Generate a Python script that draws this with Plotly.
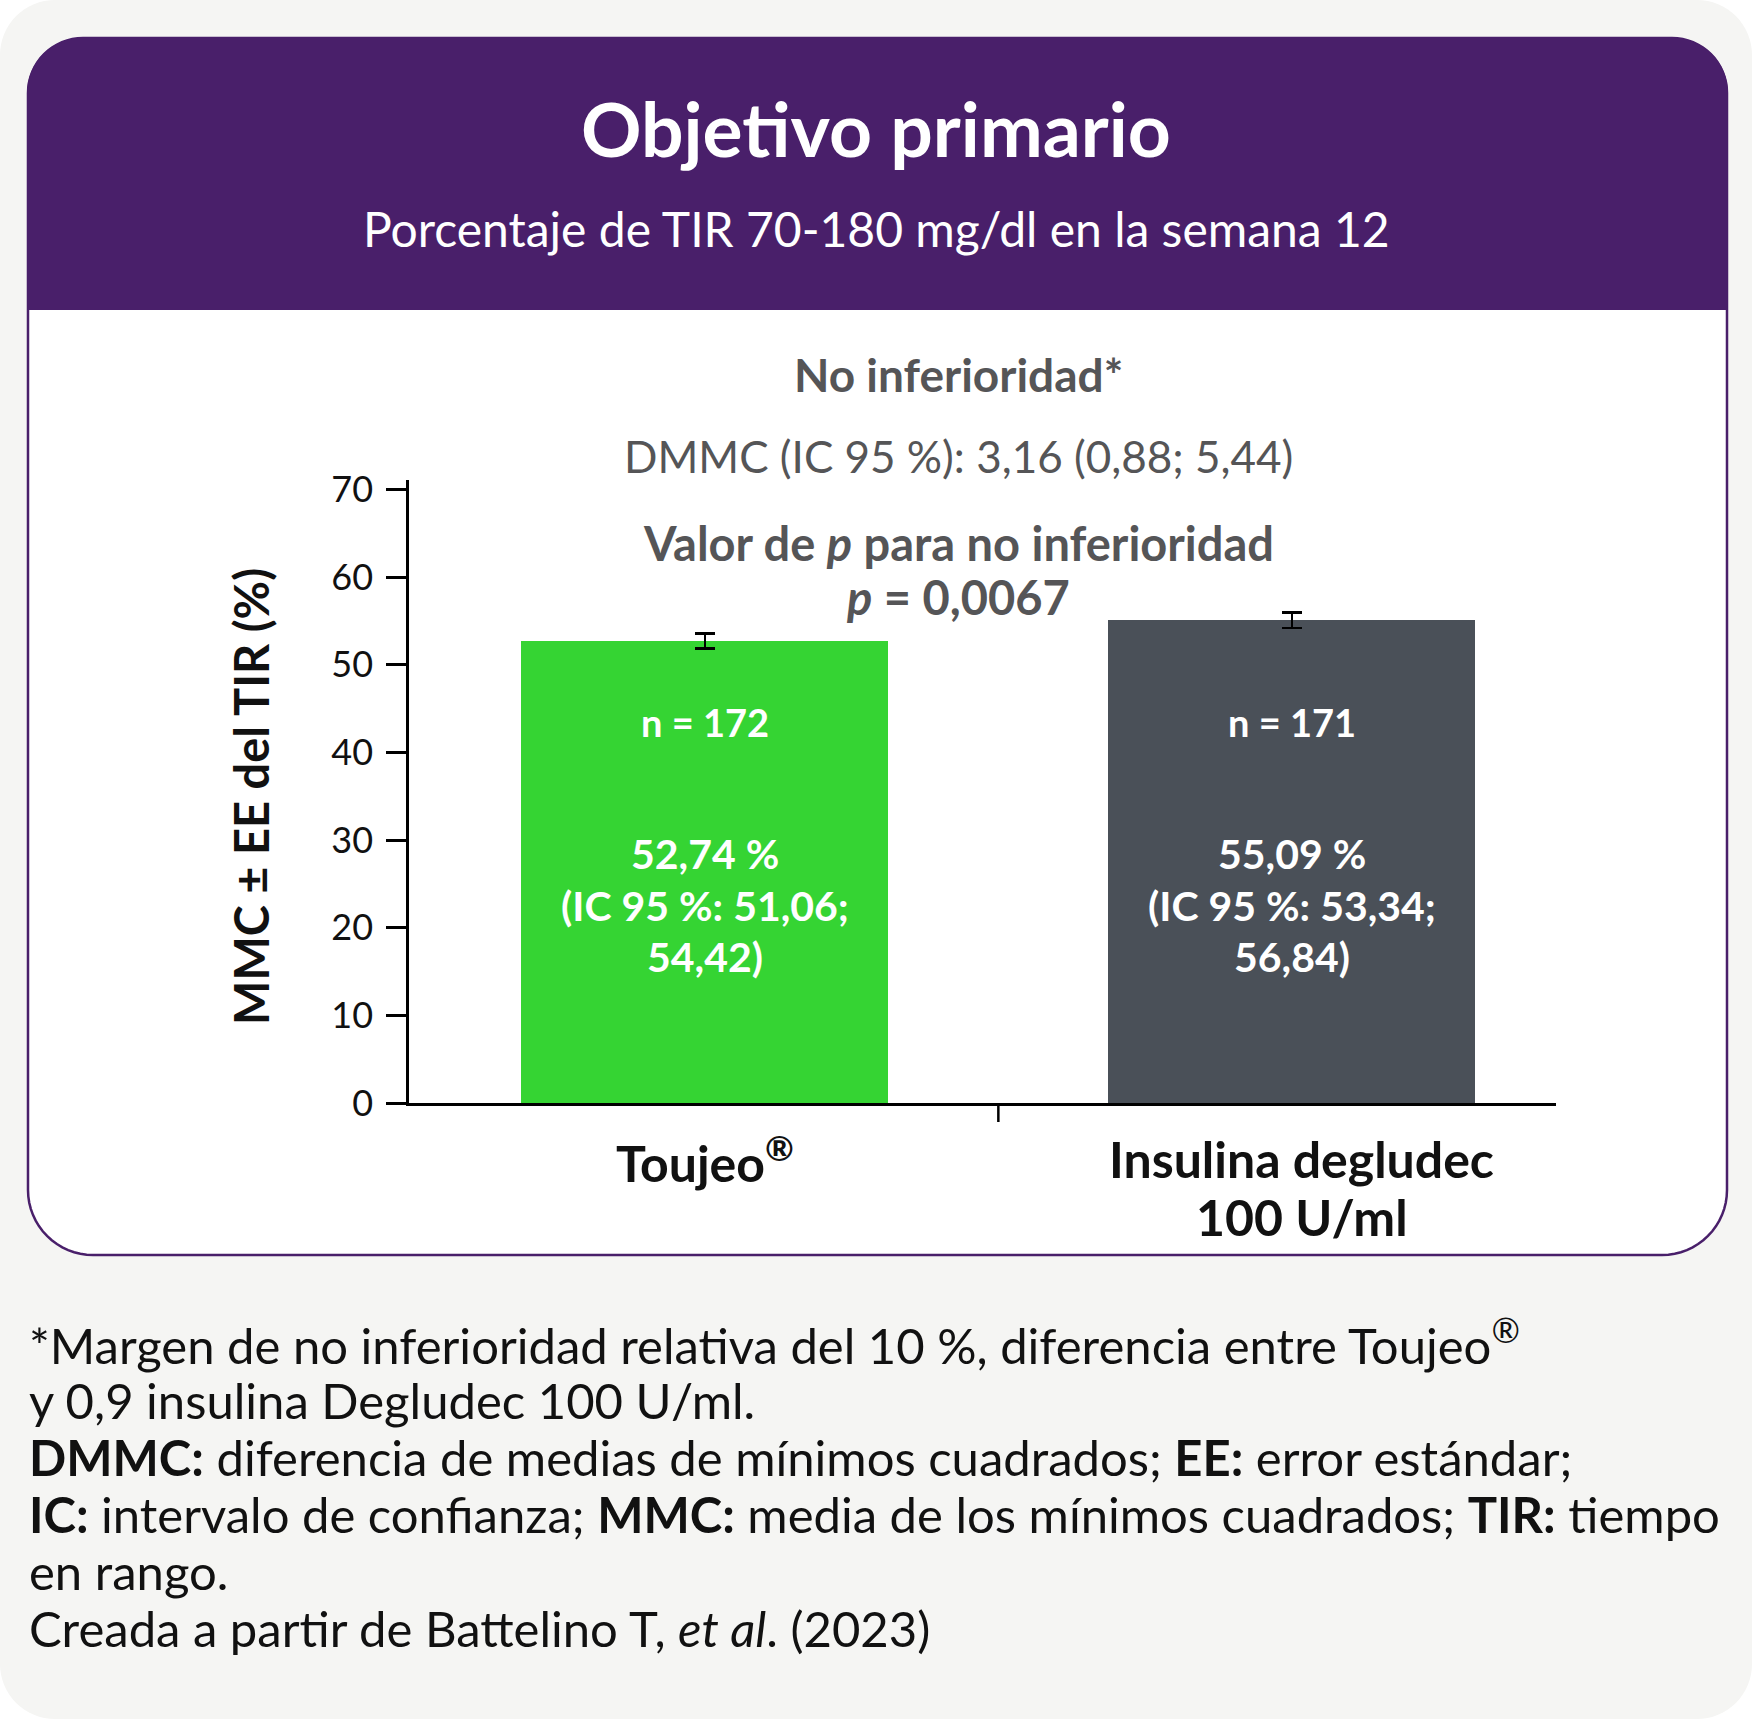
import plotly.graph_objects as go
import math

W, H = 1752, 1719

# ---- data ----
categories = ["Toujeo<sup>®</sup>", "Insulina degludec<br>100 U/ml"]
mmc_values = [52.74, 55.09]
se_values = [0.86, 0.89]
n_labels = ["n = 172", "n = 171"]
value_labels = ["52,74 %", "55,09 %"]
ci_labels = ["(IC 95 %: 51,06;<br>54,42)", "(IC 95 %: 53,34;<br>56,84)"]
bar_colors = ["#35d433", "#4a5058"]
y_ticks = [0, 10, 20, 30, 40, 50, 60, 70]

title = "<b>Objetivo primario</b>"
subtitle = "Porcentaje de TIR 70-180 mg/dl en la semana 12"
stat_lines = [
    "<b>No inferioridad*</b>",
    "DMMC (IC 95 %): 3,16 (0,88; 5,44)",
    "<b>Valor de <i>p</i> para no inferioridad</b>",
    "<b><i>p</i> = 0,0067</b>",
]
y_title = "<b>MMC ± EE del TIR (%)</b>"
footnotes = [
    "*Margen de no inferioridad relativa del 10 %, diferencia entre Toujeo<sup>®</sup>",
    "y 0,9 insulina Degludec 100 U/ml.",
    "<b>DMMC:</b> diferencia de medias de mínimos cuadrados; <b>EE:</b> error estándar;",
    "<b>IC:</b> intervalo de confianza; <b>MMC:</b> media de los mínimos cuadrados; <b>TIR:</b> tiempo",
    "en rango.",
    "Creada a partir de Battelino T, <i>et al</i>. (2023)",
]

FONT = "Lato"
PURPLE = "#491f6a"
TEXT_GRAY = "#555557"


def px(x):
    return x / W


def py(y):
    return 1 - y / H


def rounded_path(x0, y0, x1, y1, r_tl, r_tr, r_br, r_bl, n=16):
    pts = []

    def arc(cx, cy, r, a0, a1):
        if r == 0:
            pts.append((cx, cy))
            return
        for i in range(n + 1):
            a = a0 + (a1 - a0) * i / n
            pts.append((cx + r * math.cos(a), cy + r * math.sin(a)))

    arc(x0 + r_tl, y0 + r_tl, r_tl, math.pi, 1.5 * math.pi)
    arc(x1 - r_tr, y0 + r_tr, r_tr, 1.5 * math.pi, 2 * math.pi)
    arc(x1 - r_br, y1 - r_br, r_br, 0, 0.5 * math.pi)
    arc(x0 + r_bl, y1 - r_bl, r_bl, 0.5 * math.pi, math.pi)
    return "M " + " L ".join(f"{px(a):.5f},{py(b):.5f}" for a, b in pts) + " Z"


shapes = [
    dict(type="path", xref="paper", yref="paper", layer="below",
         path=rounded_path(0, 0, W, H, 55, 55, 55, 55),
         fillcolor="#f5f5f3", line=dict(width=0)),
    dict(type="path", xref="paper", yref="paper", layer="below",
         path=rounded_path(28, 38, 1727, 1255, 55, 55, 65, 65),
         fillcolor="white", line=dict(color=PURPLE, width=2.5)),
    dict(type="path", xref="paper", yref="paper", layer="below",
         path=rounded_path(27, 38, 1728, 310, 55, 55, 0, 0),
         fillcolor=PURPLE, line=dict(width=0)),
    dict(type="line", xref="x", yref="paper", x0=0.5, x1=0.5,
         y0=py(1103), y1=py(1122), line=dict(color="black", width=2.5)),
]

fig = go.Figure()
fig.add_trace(go.Bar(
    x=[0, 1], y=mmc_values, width=0.625,
    marker=dict(color=bar_colors, line=dict(width=0)),
    error_y=dict(type="data", array=se_values, visible=True,
                 color="black", thickness=2.5, width=10),
    hoverinfo="skip",
))

annotations = []


def add_text(text, x, y, size, color, xref="paper", xanchor="center", angle=0, xshift=0):
    annotations.append(dict(text=text, x=x, y=py(y), xref=xref, yref="paper",
                            showarrow=False, textangle=angle, xshift=xshift,
                            font=dict(family=FONT, size=size, color=color),
                            xanchor=xanchor, yanchor="middle"))


add_text(title, px(876), 128, 75, "white")
add_text(subtitle, px(876), 228, 48, "white")
stat_y = [374, 456, 543, 597]
stat_sizes = [46, 44, 47, 47]
for t, yy, s in zip(stat_lines, stat_y, stat_sizes):
    add_text(t, px(958), yy, s, TEXT_GRAY)

add_text(y_title, px(251), 797, 47, "#111111", angle=-90)

cat_shift = [0, 10]
for i in range(2):
    add_text(f"<b>{n_labels[i]}</b>", i, 722, 38, "white", xref="x")
    lines = [value_labels[i]] + ci_labels[i].split("<br>")
    for ln, yy in zip(lines, [854, 906, 956]):
        add_text(f"<b>{ln}</b>", i, yy, 41, "white", xref="x")
    for ln, yy in zip(categories[i].split("<br>"), [1159, 1217]):
        add_text(f"<b>{ln}</b>", i, yy, 50, "#111111", xref="x", xshift=cat_shift[i])

foot_y = [1341, 1400, 1457, 1514, 1571, 1628]
for t, yy in zip(footnotes, foot_y):
    add_text(t, px(27), yy, 49, "#111111", xanchor="left")

fig.update_layout(
    width=W, height=H,
    autosize=False,
    margin=dict(l=0, r=0, t=0, b=0, pad=0, autoexpand=False),
    paper_bgcolor="white",
    plot_bgcolor="rgba(0,0,0,0)",
    showlegend=False,
    bargap=0,
    shapes=shapes,
    annotations=annotations,
    xaxis=dict(domain=[px(409), px(1556)], range=[-0.504, 1.45],
               showline=True, linecolor="black", linewidth=2.5,
               showticklabels=False, ticks="", showgrid=False, zeroline=False,
               fixedrange=True, automargin=False),
    yaxis=dict(domain=[py(1103), py(480)], range=[0, 71.1],
               tickvals=y_ticks, ticktext=[str(v) for v in y_ticks],
               showline=True, linecolor="black", linewidth=2.5,
               ticks="outside", ticklen=20, tickwidth=2.5, tickcolor="black",
               ticklabelstandoff=6,
               tickfont=dict(family=FONT, size=36, color="#111111"),
               showgrid=False, zeroline=False, fixedrange=True, automargin=False),
)

fig.write_html("out.html")
